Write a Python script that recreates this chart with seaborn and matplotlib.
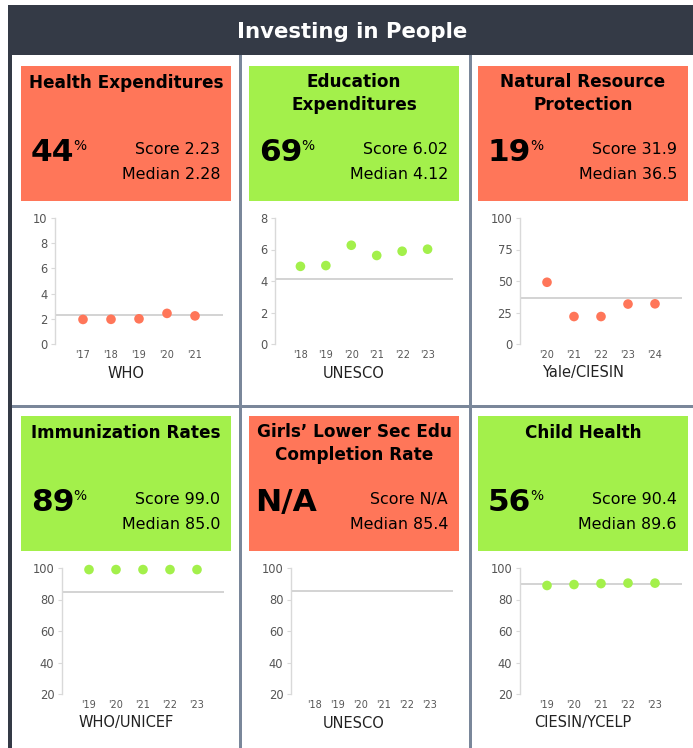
import matplotlib
matplotlib.use("Agg")
import matplotlib.pyplot as plt
from matplotlib.patches import Rectangle
import seaborn as sns
import pandas as pd

# ---- data ---------------------------------------------------------------
health_years = ["'17", "'18", "'19", "'20", "'21"]
health_values = [1.95, 1.96, 2.0, 2.43, 2.23]

education_years = ["'18", "'19", "'20", "'21", "'22", "'23"]
education_values = [4.93, 4.98, 6.27, 5.62, 5.89, 6.02]

nature_years = ["'20", "'21", "'22", "'23", "'24"]
nature_values = [49.0, 21.8, 21.8, 31.7, 31.9]

immunization_years = ["'19", "'20", "'21", "'22", "'23"]
immunization_values = [99.0, 99.0, 99.0, 99.0, 99.0]

girls_years = ["'18", "'19", "'20", "'21", "'22", "'23"]
girls_values = []

child_years = ["'19", "'20", "'21", "'22", "'23"]
child_values = [88.9, 89.5, 90.1, 90.4, 90.4]

titles = ["Health Expenditures", "Education\nExpenditures", "Natural Resource\nProtection",
          "Immunization Rates", "Girls\u2019 Lower Sec Edu\nCompletion Rate", "Child Health"]
percentiles = ["44", "69", "19", "89", "N/A", "56"]
scores = ["2.23", "6.02", "31.9", "99.0", "N/A", "90.4"]
medians = [2.28, 4.12, 36.5, 85.0, 85.4, 89.6]
median_labels = ["2.28", "4.12", "36.5", "85.0", "85.4", "89.6"]
passed = [False, True, False, True, False, True]
sources = ["WHO", "UNESCO", "Yale/CIESIN", "WHO/UNICEF", "UNESCO", "CIESIN/YCELP"]
y_limits = [(0, 10), (0, 8), (0, 100), (20, 100), (20, 100), (20, 100)]
y_ticks = [[0, 2, 4, 6, 8, 10], [0, 2, 4, 6, 8], [0, 25, 50, 75, 100],
           [20, 40, 60, 80, 100], [20, 40, 60, 80, 100], [20, 40, 60, 80, 100]]

series = [(health_years, health_values), (education_years, education_values),
          (nature_years, nature_values), (immunization_years, immunization_values),
          (girls_years, girls_values), (child_years, child_values)]

# ---- styling ------------------------------------------------------------
W, H = 693, 748
RED = "#FF7659"
GREEN = "#A3F04B"
DARK = "#343A46"
SLATE = "#7A879A"

sns.set_theme(style="white")
plt.rcParams["font.family"] = ["DejaVu Sans"]

fig = plt.figure(figsize=(W / 100, H / 100), dpi=100)
fig.patch.set_facecolor("white")


def fx(x):
    return x / W


def fy(y):
    return 1 - y / H


def rect(x0, y0, x1, y1, color):
    fig.patches.append(Rectangle((fx(x0), fy(y1)), fx(x1) - fx(x0), fy(y0) - fy(y1),
                                 transform=fig.transFigure, facecolor=color,
                                 edgecolor="none", zorder=0))


def text(x, y, s, **kw):
    return fig.text(fx(x), fy(y), s, **kw)


# frame, header and panel dividers
rect(8, 5, 693, 55, DARK)
rect(8, 5, 12, 748, DARK)
rect(238.5, 55, 241.5, 748, SLATE)
rect(468.5, 55, 471.5, 748, SLATE)
rect(12, 404.5, 693, 407.5, SLATE)
text(352, 32, "Investing in People", color="white", fontsize=15.3,
     fontweight="bold", ha="center", va="center")

box_left = [21, 249, 478]
box_right = [231, 459, 688]
axes_x = [(55, 223), (275, 453), (520, 682), (62, 224), (291, 453), (520, 682)]

renderer = fig.canvas.get_renderer()

for i in range(6):
    row, col = divmod(i, 3)
    dy = 350 * row
    bl, br = box_left[col], box_right[col]
    color = GREEN if passed[i] else RED
    rect(bl, 66 + dy, br, 201 + dy, color)

    # title
    lines = titles[i].split("\n")
    if len(lines) == 1:
        text((bl + br) / 2, 83 + dy, lines[0], fontsize=12.2, fontweight="bold",
             color="black", ha="center", va="center")
    else:
        for k, ln in enumerate(lines):
            text((bl + br) / 2, 82 + dy + 23 * k, ln, fontsize=12.2, fontweight="bold",
                 color="black", ha="center", va="center")

    # big percentile with a small superscript percent sign
    na = percentiles[i] == "N/A"
    big = text(bl + (6 if na else 10), 161 + dy, percentiles[i], fontsize=22.5,
               fontweight="bold", color="black", ha="left", va="baseline")
    if not na:
        ext = big.get_window_extent(renderer)
        text(ext.x1 - 1, 150 + dy, "%", fontsize=10, color="black",
             ha="left", va="baseline")

    # score and median
    text(br - 11, 154 + dy, f"Score {scores[i]}", fontsize=11.4, color="black",
         ha="right", va="baseline")
    text(br - 11, 179 + dy, f"Median {median_labels[i]}", fontsize=11.4, color="black",
         ha="right", va="baseline")

    # chart
    l, r = axes_x[i]
    top, bottom = 218 + dy, 344 + dy
    ax = fig.add_axes([fx(l), fy(bottom), fx(r) - fx(l), fy(top) - fy(bottom)])
    ax.set_facecolor("none")
    years, vals = series[i]
    n = len(years)
    ax.axhline(medians[i], color="#CCCCCC", lw=1.2, zorder=1)
    if vals:
        df = pd.DataFrame({"pos": list(range(n)), "value": vals})
        sns.scatterplot(data=df, x="pos", y="value", ax=ax, color=color, s=48,
                        edgecolor="none", zorder=3, legend=False, clip_on=False)
    ax.set_xlim(-1, n)
    ax.set_ylim(*y_limits[i])
    ax.set_xticks(range(n))
    ax.set_xticklabels(years)
    ax.set_yticks(y_ticks[i])
    ax.set_xlabel("")
    ax.set_ylabel("")
    for side in ["top", "right", "bottom"]:
        ax.spines[side].set_visible(False)
    ax.spines["left"].set_color("#D9D9D9")
    ax.spines["left"].set_linewidth(1.0)
    ax.tick_params(axis="y", left=True, length=3, width=0.8, color="#D9D9D9",
                   labelsize=8.3, labelcolor="#555555", pad=2.5)
    ax.tick_params(axis="x", bottom=False, length=0, labelsize=7, labelcolor="#555555",
                   pad=4.5)

    text((bl + br) / 2, 373 + dy, sources[i], fontsize=10.5, color="#222222",
         ha="center", va="center")

fig.savefig("out.png", dpi=100, facecolor="white")
